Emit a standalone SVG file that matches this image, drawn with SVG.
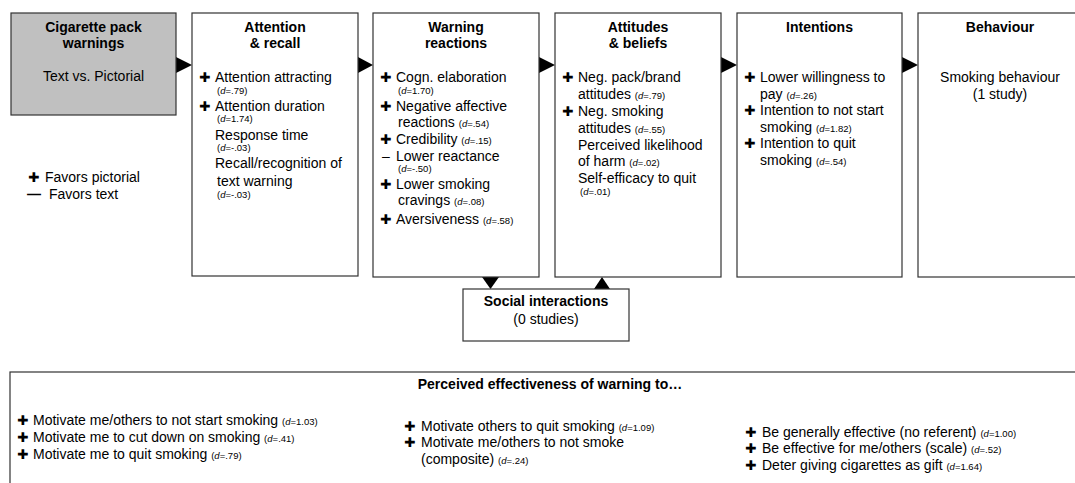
<svg xmlns="http://www.w3.org/2000/svg" width="1075" height="483" viewBox="0 0 1075 483">
<style>
text{font-family:"Liberation Sans",Arial,sans-serif;font-size:14px;fill:#000}
.t{font-weight:bold;text-anchor:middle}
.c{text-anchor:middle}
.s{font-size:9.5px}
.i{font-style:italic}
.p{font-family:"DejaVu Sans",sans-serif;font-size:13.5px}
.box{fill:#fff;stroke:#333;stroke-width:1.2}
.gray{fill:#c0c0c0;stroke:#333;stroke-width:1.2}
.ah{fill:#000}
</style>
<rect width="1075" height="483" fill="#fff"/>
<g id="connectors">
<polygon class="ah" points="176,57 192,65 176,73"/>
<polygon class="ah" points="358,57 373,65 358,73"/>
<polygon class="ah" points="539,57 555,65 539,73"/>
<polygon class="ah" points="721,57 737,65 721,73"/>
<polygon class="ah" points="902,57 918,65 902,73"/>
<polygon class="ah" points="482,277 499,277 490.5,289"/>
<polygon class="ah" points="594,289 610,289 602,277"/>
</g>
<g id="warnings">
<rect class="gray" x="11" y="13" width="165" height="102"/>
<text class="t" x="93.5" y="32">Cigarette pack</text>
<text class="t" x="93.5" y="48">warnings</text>
<text class="c" x="93.5" y="81">Text vs. Pictorial</text>
</g>
<g id="legend">
<text class="p" x="28" y="182">✚</text><text x="45" y="182">Favors pictorial</text>
<text x="27" y="199" font-weight="bold">—</text><text x="49" y="199">Favors text</text>
</g>
<g id="attention">
<rect class="box" x="192" y="13" width="166" height="263"/>
<text class="t" x="275" y="32">Attention</text>
<text class="t" x="275" y="48">&amp; recall</text>
<text class="p" x="199" y="82">✚</text><text x="215" y="82">Attention attracting</text>
<text class="s" x="217" y="94">(<tspan class="i">d</tspan>=.79)</text>
<text class="p" x="199" y="111">✚</text><text x="215" y="111">Attention duration</text>
<text class="s" x="217" y="122">(<tspan class="i">d</tspan>=1.74)</text>
<text x="215" y="140">Response time</text>
<text class="s" x="217" y="151">(<tspan class="i">d</tspan>=-.03)</text>
<text x="215" y="168">Recall/recognition of</text>
<text x="217" y="186">text warning</text>
<text class="s" x="217" y="198">(<tspan class="i">d</tspan>=-.03)</text>
</g>
<g id="reactions">
<rect class="box" x="373" y="13" width="166" height="264"/>
<text class="t" x="456" y="32">Warning</text>
<text class="t" x="456" y="48">reactions</text>
<text class="p" x="380" y="82">✚</text><text x="396" y="82">Cogn. elaboration</text>
<text class="s" x="398" y="94">(<tspan class="i">d</tspan>=1.70)</text>
<text class="p" x="380" y="111">✚</text><text x="396" y="111">Negative affective</text>
<text x="398" y="127">reactions <tspan class="s">(<tspan class="i">d</tspan>=.54)</tspan></text>
<text class="p" x="380" y="144">✚</text><text x="396" y="144">Credibility <tspan class="s">(<tspan class="i">d</tspan>=.15)</tspan></text>
<text x="382" y="161">–</text><text x="396" y="161">Lower reactance</text>
<text class="s" x="398" y="172">(<tspan class="i">d</tspan>=-.50)</text>
<text class="p" x="380" y="189">✚</text><text x="396" y="189">Lower smoking</text>
<text x="398" y="205">cravings <tspan class="s">(<tspan class="i">d</tspan>=.08)</tspan></text>
<text class="p" x="380" y="224">✚</text><text x="396" y="224">Aversiveness <tspan class="s">(<tspan class="i">d</tspan>=.58)</tspan></text>
</g>
<g id="attitudes">
<rect class="box" x="555" y="13" width="166" height="264"/>
<text class="t" x="638" y="32">Attitudes</text>
<text class="t" x="638" y="48">&amp; beliefs</text>
<text class="p" x="562" y="82">✚</text><text x="578" y="82">Neg. pack/brand</text>
<text x="578" y="99">attitudes <tspan class="s">(<tspan class="i">d</tspan>=.79)</tspan></text>
<text class="p" x="562" y="116">✚</text><text x="578" y="116">Neg. smoking</text>
<text x="578" y="133">attitudes <tspan class="s">(<tspan class="i">d</tspan>=.55)</tspan></text>
<text x="578" y="150">Perceived likelihood</text>
<text x="578" y="166">of harm <tspan class="s">(<tspan class="i">d</tspan>=.02)</tspan></text>
<text x="578" y="183">Self-efficacy to quit</text>
<text class="s" x="580" y="195">(<tspan class="i">d</tspan>=.01)</text>
</g>
<g id="intentions">
<rect class="box" x="737" y="13" width="165" height="264"/>
<text class="t" x="819.5" y="32">Intentions</text>
<text class="p" x="744" y="82">✚</text><text x="760" y="82">Lower willingness to</text>
<text x="760" y="99">pay <tspan class="s">(<tspan class="i">d</tspan>=.26)</tspan></text>
<text class="p" x="744" y="115">✚</text><text x="760" y="115">Intention to not start</text>
<text x="760" y="132">smoking <tspan class="s">(<tspan class="i">d</tspan>=1.82)</tspan></text>
<text class="p" x="744" y="148">✚</text><text x="760" y="148">Intention to quit</text>
<text x="760" y="165">smoking <tspan class="s">(<tspan class="i">d</tspan>=.54)</tspan></text>
</g>
<g id="behaviour">
<rect class="box" x="918" y="13" width="170" height="264"/>
<text class="t" x="1000" y="32">Behaviour</text>
<text class="c" x="1000" y="82">Smoking behaviour</text>
<text class="c" x="1000" y="99">(1 study)</text>
</g>
<g id="social">
<rect class="box" x="463" y="289" width="166" height="52"/>
<text class="t" x="546" y="306">Social interactions</text>
<text class="c" x="546" y="324">(0 studies)</text>
</g>
<g id="perceived">
<rect class="box" x="10" y="372" width="1080" height="120"/>
<text class="t" x="550" y="389">Perceived effectiveness of warning to…</text>
<text class="p" x="17" y="425">✚</text><text x="33" y="425">Motivate me/others to not start smoking <tspan class="s">(<tspan class="i">d</tspan>=1.03)</tspan></text>
<text class="p" x="17" y="442">✚</text><text x="33" y="442">Motivate me to cut down on smoking <tspan class="s">(<tspan class="i">d</tspan>=.41)</tspan></text>
<text class="p" x="17" y="459">✚</text><text x="33" y="459">Motivate me to quit smoking <tspan class="s">(<tspan class="i">d</tspan>=.79)</tspan></text>
<text class="p" x="404" y="431">✚</text><text x="421" y="431">Motivate others to quit smoking <tspan class="s">(<tspan class="i">d</tspan>=1.09)</tspan></text>
<text class="p" x="404" y="447">✚</text><text x="421" y="447">Motivate me/others to not smoke</text>
<text x="421" y="464">(composite) <tspan class="s">(<tspan class="i">d</tspan>=.24)</tspan></text>
<text class="p" x="745" y="437">✚</text><text x="762" y="437">Be generally effective (no referent) <tspan class="s">(<tspan class="i">d</tspan>=1.00)</tspan></text>
<text class="p" x="745" y="453">✚</text><text x="762" y="453">Be effective for me/others (scale) <tspan class="s">(<tspan class="i">d</tspan>=.52)</tspan></text>
<text class="p" x="745" y="470">✚</text><text x="762" y="470">Deter giving cigarettes as gift <tspan class="s">(<tspan class="i">d</tspan>=1.64)</tspan></text>
</g>
</svg>
